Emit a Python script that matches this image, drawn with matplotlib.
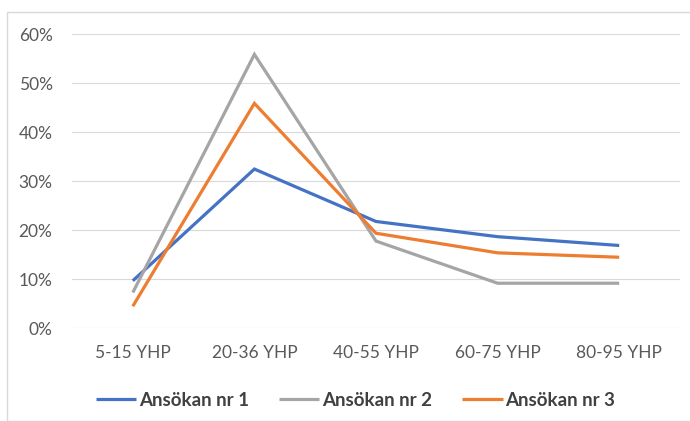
import matplotlib.pyplot as plt
from matplotlib.patches import Rectangle
from matplotlib.ticker import PercentFormatter

# data
categories = ["5-15 YHP", "20-36 YHP", "40-55 YHP", "60-75 YHP", "80-95 YHP"]
ansokan_1 = [0.097, 0.325, 0.218, 0.187, 0.169]
ansokan_2 = [0.073, 0.559, 0.178, 0.092, 0.092]
ansokan_3 = [0.045, 0.459, 0.194, 0.154, 0.145]
series_names = ["Ansökan nr 1", "Ansökan nr 2", "Ansökan nr 3"]
colors = ["#4472C4", "#A5A5A5", "#ED7D31"]

plt.rcParams['font.family'] = ['Lato', 'DejaVu Sans']

fig = plt.figure(figsize=(6.9, 4.21), dpi=100)
ax = fig.add_axes([72 / 690, 1 - 328.3 / 421, 608 / 690, 294 / 421])

x = list(range(len(categories)))
for vals, name, col in zip([ansokan_1, ansokan_2, ansokan_3], series_names, colors):
    ax.plot(x, vals, color=col, lw=2.3, label=name, solid_capstyle='butt',
            solid_joinstyle='miter')

ax.set_xlim(-0.5, len(categories) - 0.5)
ax.set_ylim(0, 0.6)
ax.set_yticks([0, 0.1, 0.2, 0.3, 0.4, 0.5, 0.6])
ax.yaxis.set_major_formatter(PercentFormatter(1.0, decimals=0))
ax.set_xticks(x)
ax.set_xticklabels(categories)
ax.grid(axis='y', color='#d9d9d9', lw=0.8)
ax.set_axisbelow(True)
for s in ax.spines.values():
    s.set_visible(False)
ax.tick_params(length=0, colors='#595959', labelsize=12.5)
ax.tick_params(axis='y', pad=14)
ax.tick_params(axis='x', pad=12)

leg = fig.legend(loc='center', bbox_to_anchor=(355.5 / 690, 1 - 400 / 421), ncol=3,
                 frameon=False, handlelength=2.15, handletextpad=0.16,
                 columnspacing=1.6, prop={'size': 13.5, 'weight': 'bold'})
for t in leg.get_texts():
    t.set_color('#404040')

# light chart border
fig.patches.append(Rectangle((7 / 690, 0), 700 / 690, 1 - 12 / 421, transform=fig.transFigure,
                             fill=False, edgecolor='#d9d9d9', lw=1))

fig.savefig("out.png", dpi=100)
